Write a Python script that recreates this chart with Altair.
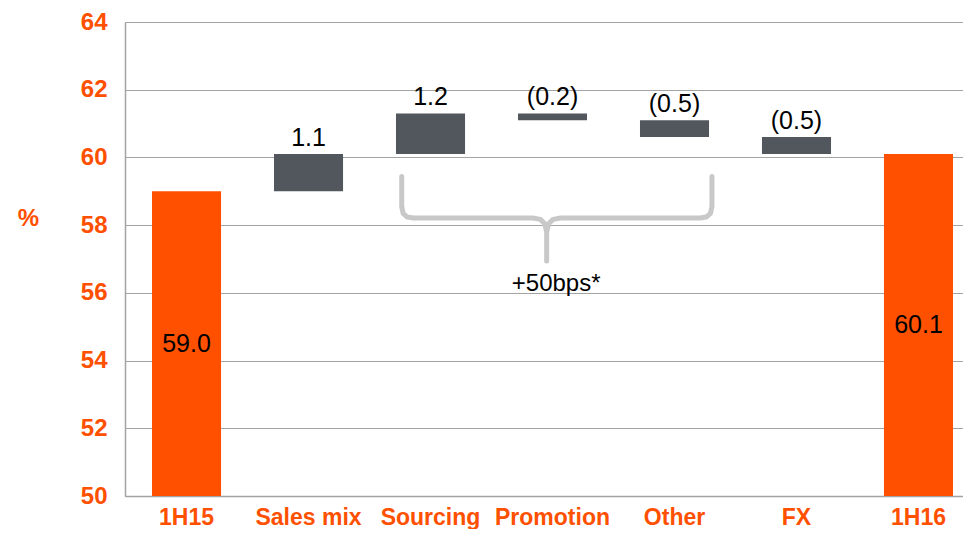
import altair as alt
import pandas as pd

# ---- data ----
categories = ["1H15", "Sales mix", "Sourcing", "Promotion", "Other", "FX", "1H16"]
kinds = ["total", "delta", "delta", "delta", "delta", "delta", "total"]
values = [59.0, 1.1, 1.2, -0.2, -0.5, -0.5, 60.1]
labels = ["59.0", "1.1", "1.2", "(0.2)", "(0.5)", "(0.5)", "60.1"]

brace_x = [1.764, 1.764, 1.775, 1.81, 1.86, 2.84, 2.90, 2.935, 2.952, 2.952,
           2.952, 2.97, 3.005, 3.065, 4.21, 4.26, 4.295, 4.307, 4.307]
brace_y = [59.44, 58.55, 58.35, 58.24, 58.21, 58.21, 58.17, 58.05, 57.80, 56.94,
           57.80, 58.05, 58.17, 58.21, 58.21, 58.24, 58.35, 58.55, 59.44]
brace_label = "+50bps*"
brace_label_x = 3.03
brace_label_y = 56.26

ORANGE = "#FF5000"
GRAY = "#52575D"
GRID = "#A3A3A3"
FONT = "Liberation Sans"

# ---- build waterfall table ----
rows = []
running = 0.0
for i, (c, k, v, l) in enumerate(zip(categories, kinds, values, labels)):
    if k == "total":
        start, end = 50.0, v
        running = v
        lab_y = (50.0 + v) / 2
    else:
        start, end = running, running + v
        running = end
        lab_y = max(start, end)
    rows.append(dict(cat=c, kind=k, start=start, end=end, label=l, lab_y=lab_y))
df = pd.DataFrame(rows)
brace_df = pd.DataFrame({"bx": brace_x, "by": brace_y, "order": list(range(len(brace_x)))})
brace_txt = pd.DataFrame({"bx": [brace_label_x], "by": [brace_label_y], "t": [brace_label]})

W, H = 838, 474
PI, PO, ALIGN = 0.434, 0.1516, 0.730
n = len(categories)
a = -(2 * PO * ALIGN + (1 - PI) / 2)
b = a + (n - PI + 2 * PO)

yscale = alt.Scale(domain=[50, 64], nice=False, zero=False)
xband = alt.X("cat:N", sort=categories,
              scale=alt.Scale(paddingInner=PI, paddingOuter=PO, align=ALIGN, round=False),
              axis=alt.Axis(title=None, labelAngle=0, labelFontSize=23, labelFontWeight="bold",
                            labelColor=ORANGE, labelFont=FONT, labelPadding=10, ticks=False,
                            domainColor=GRID, domainWidth=1.5, grid=False))

bars = alt.Chart(df).mark_bar().encode(
    x=xband,
    y=alt.Y("start:Q", scale=yscale,
            axis=alt.Axis(values=[50, 52, 54, 56, 58, 60, 62, 64], title="%",
                          titleAngle=0, titleX=-97, titleY=196, titleAlign="center",
                          titleBaseline="middle", titleFontSize=24, titleColor=ORANGE,
                          titleFont=FONT, titleFontWeight="bold",
                          labelFontSize=24, labelFontWeight="bold", labelColor=ORANGE,
                          labelFont=FONT, labelPadding=18, ticks=False,
                          domainColor=GRID, domainWidth=1.5, gridColor=GRID, gridWidth=1.2)),
    y2="end:Q",
    color=alt.Color("kind:N", scale=alt.Scale(domain=["total", "delta"], range=[ORANGE, GRAY]),
                    legend=None),
)

delta_text = alt.Chart(df).transform_filter(alt.datum.kind == "delta").mark_text(
    baseline="bottom", dy=-3, fontSize=25, font=FONT, color="black"
).encode(x=alt.X("cat:N", sort=categories), y=alt.Y("lab_y:Q", scale=yscale), text="label:N")

total_text = alt.Chart(df).transform_filter(alt.datum.kind == "total").mark_text(
    baseline="middle", fontSize=25, font=FONT, color="black"
).encode(x=alt.X("cat:N", sort=categories), y=alt.Y("lab_y:Q", scale=yscale), text="label:N")

main = alt.layer(bars, delta_text, total_text)

bxscale = alt.Scale(domain=[a, b], nice=False, zero=False)
brace = alt.Chart(brace_df).mark_line(color="#C8C8C8", strokeWidth=5, strokeCap="round",
                                      strokeJoin="round").encode(
    x=alt.X("bx:Q", scale=bxscale, axis=None),
    y=alt.Y("by:Q", scale=yscale),
    order="order:Q",
)
brace_t = alt.Chart(brace_txt).mark_text(fontSize=24, font=FONT, color="black",
                                         baseline="middle").encode(
    x=alt.X("bx:Q", scale=bxscale, axis=None),
    y=alt.Y("by:Q", scale=yscale),
    text="t:N",
)
ann = alt.layer(brace, brace_t)

chart = alt.layer(main, ann).resolve_scale(x="independent").properties(
    width=W, height=H,
    autosize=alt.AutoSizeParams(type="none"),
    padding={"left": 117, "top": 14, "right": 0, "bottom": 33},
).configure_view(stroke=None).configure(background="white")

chart.save("out.html", embed_options={"renderer": "svg", "actions": False})
